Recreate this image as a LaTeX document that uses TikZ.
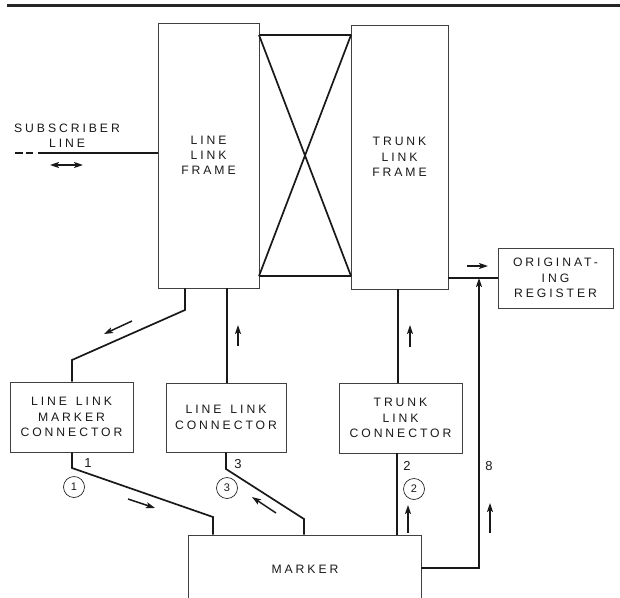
\documentclass[tikz,border=0pt]{standalone}
\usepackage{fontspec}
\setmainfont{Liberation Sans}
\newfontfamily\labfont{Liberation Sans}[LetterSpace=24]
\usetikzlibrary{arrows.meta,calc}
\newcommand{\wsp}{\hspace{9pt}}
\begin{document}
\begin{tikzpicture}[x=1pt,y=-1pt,
  box/.style={draw=black!75, line width=0.8pt, rectangle, inner sep=0pt, align=center,
    font=\labfont\fontsize{12.2}{15.3}\selectfont, text=black!90},
  txt/.style={inner sep=0pt, align=center, font=\labfont\fontsize{12.2}{15.3}\selectfont, text=black!90},
  wire/.style={line width=1.7pt, draw=black!90},
  tip/.style={-{Stealth[length=9pt,width=6pt,inset=2pt]}},
  ind/.style={line width=1.5pt, draw=black!90, tip},
  numlab/.style={inner sep=0pt, font=\fontsize{13}{15}\selectfont, text=black!90},
  circnum/.style={circle, draw=black!85, line width=0.7pt, minimum size=21pt, inner sep=0pt,
    font=\fontsize{11}{12}\selectfont, text=black!90}]
\useasboundingbox (0,0) rectangle (620,597);
\clip (0,0) rectangle (620,597);
% top rule
\coordinate (rl) at (7,5.5);
\coordinate (rr) at (620,5.5);
\draw[line width=2.4pt, black!85] (rl) -- (rr);
% boxes
\node[box, minimum width=101pt, minimum height=265pt] (llf) at (208.5,155.5) {LINE\\LINK\\FRAME};
\node[box, minimum width=97pt, minimum height=264pt] (tlf) at (399.5,157) {TRUNK\\LINK\\FRAME};
\node[box, minimum width=115pt, minimum height=60pt] (or) at (555.5,278) {ORIGINAT-\\ING\\REGISTER};
\node[box, minimum width=123pt, minimum height=70pt] (llmc) at (71.5,417) {LINE\wsp LINK\\MARKER\\CONNECTOR};
\node[box, minimum width=120pt, minimum height=69pt] (llc) at (226,417.5) {LINE\wsp LINK\\CONNECTOR};
\node[box, minimum width=123pt, minimum height=70pt] (tlc) at (400.5,418) {TRUNK\\LINK\\CONNECTOR};
\node[box, minimum width=233pt, minimum height=85pt] (marker) at (304.5,577.5) {};
\node[txt] (markertxt) at (305,569) {MARKER};
% crossing network
\coordinate (xa) at (259,35);
\coordinate (xb) at (351,35);
\coordinate (xc) at (351,276);
\coordinate (xd) at (259,276);
\draw[wire] (xa) -- (xb) (xd) -- (xc) (xa) -- (xc) (xb) -- (xd);
% subscriber line
\node[txt] (subtxt) at (67,135.5) {SUBSCRIBER\\LINE};
\coordinate (s0) at (15,153);
\coordinate (s1) at (38,153);
\draw[wire, dash pattern=on 8pt off 3pt on 7pt off 5pt] (s0) -- (s1);
\draw[wire] (s1) -- (s1 -| llf.west);
\coordinate (da) at (50,165);
\coordinate (db) at (83,165);
\draw[line width=1.5pt, draw=black!90, {Stealth[length=9pt,width=6pt,inset=2pt]}-{Stealth[length=9pt,width=6pt,inset=2pt]}] (da) -- (db);
% frame to connectors
\coordinate (k1) at (185,310);
\coordinate (k2) at (72,360);
\draw[wire] (k1 |- llf.south) -- (k1) -- (k2) -- (k2 |- llmc.north);
\coordinate (k3) at (227,300);
\draw[wire] (k3 |- llf.south) -- (k3 |- llc.north);
\coordinate (k4) at (398,300);
\draw[wire] (k4 |- tlf.south) -- (k4 |- tlc.north);
\draw[wire] (or.west -| tlf.east) -- (or.west);
% connectors to marker
\coordinate (k6) at (72,468);
\coordinate (k7) at (213,517);
\draw[wire] (k6 |- llmc.south) -- (k6) -- (k7) -- (k7 |- marker.north);
\coordinate (k8) at (226,469);
\coordinate (k9) at (304,519);
\draw[wire] (k8 |- llc.south) -- (k8) -- (k9) -- (k9 |- marker.north);
\coordinate (k10) at (397,480);
\draw[wire] (k10 |- tlc.south) -- (k10 |- marker.north);
\coordinate (k5) at (479,568);
\draw[wire, tip] (marker.east |- k5) -- (k5) -- (k5 |- or.west);
% labels
\node[numlab] (n1) at (88,463) {1};
\node[numlab] (n3) at (238,464) {3};
\node[numlab] (n2) at (407,466) {2};
\node[numlab] (n8) at (489,466) {8};
\node[circnum] (c1) at (74,487) {1};
\node[circnum] (c3) at (227,488) {3};
\node[circnum] (c2) at (414,489) {2};
% indicator arrows
\coordinate (a1s) at (132,321); \coordinate (a1e) at (104,334);
\coordinate (a2s) at (238,346); \coordinate (a2e) at (238,325);
\coordinate (a3s) at (410,347); \coordinate (a3e) at (410,325);
\coordinate (a4s) at (467,266); \coordinate (a4e) at (488,266);
\coordinate (a5s) at (490,533); \coordinate (a5e) at (490,503);
\coordinate (a6s) at (128,499); \coordinate (a6e) at (155,508);
\coordinate (a7s) at (276,513); \coordinate (a7e) at (252,497);
\coordinate (a8s) at (408,533); \coordinate (a8e) at (408,505);
\foreach \i in {1,...,8} { \draw[ind] (a\i s) -- (a\i e); }
\end{tikzpicture}
\end{document}
